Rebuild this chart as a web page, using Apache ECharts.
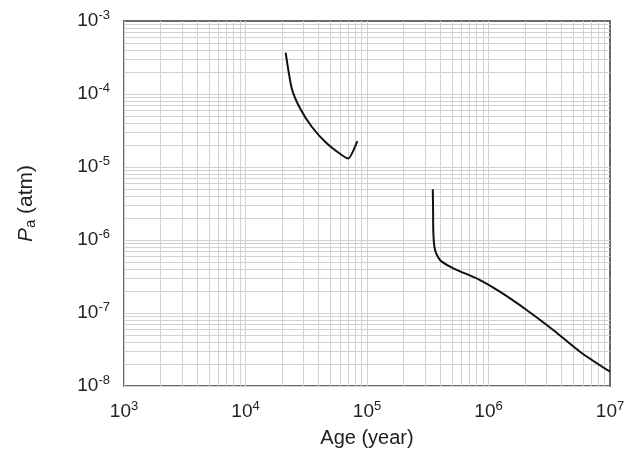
<!DOCTYPE html>
<html><head><meta charset="utf-8">
<script src="https://cdn.jsdelivr.net/npm/echarts@6/dist/echarts.min.js"></script>
<style>html,body{margin:0;padding:0;background:#fff}#c{width:638px;height:451px}</style>
</head><body><div id="c"></div>
<script>
// Data
const age1 = [2.14e4, 2.40e4, 2.81e4, 3.51e4, 4.66e4, 6.19e4, 7.0e4, 8.32e4];
const pa1  = [3.68e-4, 1.20e-4, 6.37e-5, 3.56e-5, 2.11e-5, 1.46e-5, 1.31e-5, 2.27e-5];
const age2 = [3.48e5, 3.50e5, 3.51e5, 3.55e5, 3.63e5, 3.85e5, 4.12e5, 5.14e5, 8.51e5, 1.24e6, 2.06e6, 3.41e6, 5.66e6, 1.0e7];
const pa2  = [4.94e-6, 2.4e-6, 1.37e-6, 9.5e-7, 7.3e-7, 5.8e-7, 5.05e-7, 4.09e-7, 2.83e-7, 1.96e-7, 1.10e-7, 5.85e-8, 2.95e-8, 1.57e-8];
const xExponents = [3, 4, 5, 6, 7];
const yExponents = [-8, -7, -6, -5, -4, -3];

const xMin = 1e3, xMax = 1e7, yMin = 1e-8, yMax = 1e-3;
// grid line positions (1..9 per decade)
const xGrid = [], yGrid = [];
for (let e = 3; e < 7; e++) for (let m = 1; m <= 9; m++) xGrid.push(m * Math.pow(10, e));
for (let e = -8; e < -3; e++) for (let m = 1; m <= 9; m++) yGrid.push(m * Math.pow(10, e));

const chart = echarts.init(document.getElementById('c'));
const font = 'Liberation Sans, Arial, sans-serif';
const labRich = {
  b: {fontSize: 19, fontFamily: font, color: '#222'},
  s: {fontSize: 13, fontFamily: font, color: '#222', padding: [0, 0, 11, 0]}
};
function pow10Label(v) {
  const e = Math.round(Math.log10(v));
  return '{b|10}{s|' + e + '}';
}
const gridLineData = xGrid.map(v => [{coord: [v, yMin]}, {coord: [v, yMax]}])
  .concat(yGrid.map(v => [{coord: [xMin, v]}, {coord: [xMax, v]}]));
chart.setOption({
  animation: false,
  backgroundColor: '#fff',
  grid: {left: 124, top: 21, width: 486, height: 365, containLabel: false, outerBoundsMode: 'none',
         show: true, borderColor: '#6a6a6a', borderWidth: 2},
  xAxis: {
    type: 'log', logBase: 10, min: xMin, max: xMax,
    axisLine: {show: false}, axisTick: {show: false}, splitLine: {show: false},
    axisLabel: {formatter: pow10Label, rich: labRich, margin: 14},
    name: 'Age (year)', nameLocation: 'middle', nameGap: 42,
    nameTextStyle: {fontSize: 20, fontFamily: font, color: '#222'}
  },
  yAxis: {
    type: 'log', logBase: 10, min: yMin, max: yMax,
    axisLine: {show: false}, axisTick: {show: false}, splitLine: {show: false},
    axisLabel: {formatter: pow10Label, rich: labRich, margin: 14},
    name: '{i|P}{sub|a}{n| (atm)}', nameLocation: 'middle', nameGap: 86,
    nameTextStyle: {rich: {
      i: {fontSize: 21, fontFamily: font, fontStyle: 'italic', color: '#222'},
      sub: {fontSize: 15, fontFamily: font, color: '#222', padding: [8, 0, 0, 0]},
      n: {fontSize: 21, fontFamily: font, color: '#222'}
    }}
  },
  series: [
    {type: 'line', data: [[xMin, yMin]], showSymbol: false, lineStyle: {width: 0}, silent: true, z: 1,
     markLine: {silent: true, symbol: 'none', label: {show: false},
       lineStyle: {color: '#d2d2d2', width: 1, type: 'solid'}, data: gridLineData}},
    {type: 'line', data: age1.map((a, i) => [a, pa1[i]]), showSymbol: false, smooth: 0.2, z: 5,
     lineStyle: {color: '#111', width: 2}},
    {type: 'line', data: age2.map((a, i) => [a, pa2[i]]), showSymbol: false, smooth: 0.3, z: 5,
     lineStyle: {color: '#111', width: 2}}
  ]
});
</script></body></html>
